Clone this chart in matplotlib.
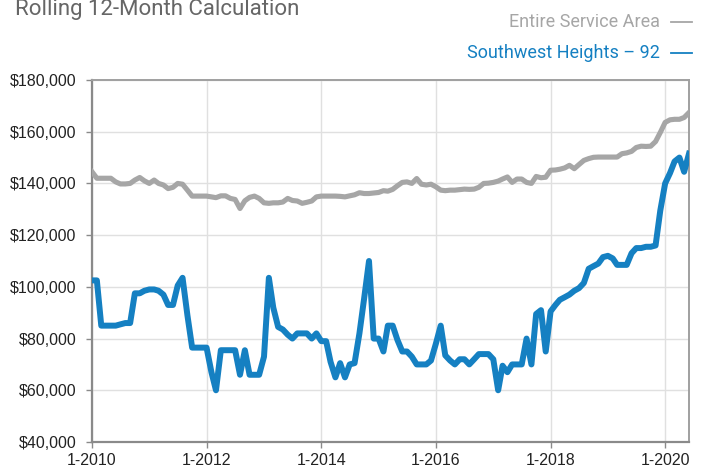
import pandas as pd
import matplotlib.pyplot as plt
from matplotlib.lines import Line2D
from matplotlib.ticker import FuncFormatter

# monthly values, in thousands of dollars (Jan 2010 - Jun 2020)
entire_area = [
    144.5, 142, 142, 142, 142, 140.6, 139.8, 139.8, 140, 141.3, 142.3, 141,
    140, 141.3, 140, 139.4, 138, 138.5, 140, 139.7, 137.4, 135.1, 135.1, 135.1,
    135.1, 134.8, 134.5, 135.2, 135.2, 134.2, 133.8, 130.3, 133.3, 134.6, 135.1, 134.2,
    132.5, 132.3, 132.5, 132.5, 132.8, 134.2, 133.4, 133.2, 132.3, 132.7, 133.2, 134.8,
    135.1, 135.1, 135.1, 135.1, 135, 134.8, 135.2, 135.6, 136.4, 136.1, 136.1, 136.3,
    136.5, 137.2, 137, 137.7, 139.1, 140.4, 140.6, 140, 141.9, 139.7, 139.4, 139.7,
    138.7, 137.4, 137.2, 137.4, 137.4, 137.6, 137.8, 137.7, 137.8, 138.5, 140, 140.1,
    140.4, 140.9, 141.7, 142.5, 140.4, 141.7, 141.7, 140.4, 140, 142.7, 142.2, 142.4,
    145.1, 145.2, 145.5, 146, 147, 145.7, 147.3, 148.9, 149.6, 150.1, 150.2, 150.2,
    150.2, 150.2, 150.2, 151.5, 151.8, 152.4, 153.9, 154.4, 154.3, 154.4, 156.2, 159.7,
    163.6, 164.6, 164.8, 164.8, 165.5, 167.4,
]

southwest_heights = [
    102.5, 102.5, 85, 85, 85, 85, 85.5, 86, 86, 97.5, 97.5, 98.5,
    99, 99, 98.5, 97, 93, 93, 100.5, 103.5, 89, 76.5, 76.5, 76.5,
    76.5, 67, 60, 75.5, 75.5, 75.5, 75.5, 66, 75.5, 66, 66, 66,
    73, 103.5, 92, 84.5, 83.5, 81.5, 80, 82, 82, 82, 80, 82,
    79, 79, 71, 65, 70.5, 65, 70, 70.5, 82, 95.5, 110, 80,
    80, 75, 85, 85, 79.5, 75, 75, 73, 70, 70, 70, 71.5,
    78, 85, 73.5, 71.5, 70, 72, 72, 70, 72, 74, 74, 74,
    72, 60, 69.5, 67, 70, 70, 70, 80, 70, 89.5, 91, 75,
    90.5, 93, 95, 96, 97, 98.5, 99.5, 101.5, 107, 108, 109, 111.5,
    112, 111, 108.5, 108.5, 108.5, 113, 115, 115, 115.5, 115.5, 116, 129.5,
    140, 144, 148.5, 150, 144.5, 151.5,
]

tick_years = [2010, 2012, 2014, 2016, 2018, 2020]
y_ticks = [40000, 60000, 80000, 100000, 120000, 140000, 160000, 180000]

GRAY = '#a6a6a6'
BLUE = '#1580c2'


def main():
    dates = pd.date_range('2010-01-01', periods=len(entire_area), freq='MS')

    fig = plt.figure(figsize=(7.05, 4.68), dpi=100)
    ax = fig.add_axes([92 / 705, 26 / 468, 597 / 705, 362 / 468])

    ax.plot(dates, [v * 1000 for v in entire_area], color=GRAY, lw=3.7,
            solid_joinstyle='round', zorder=3)
    ax.plot(dates, [v * 1000 for v in southwest_heights], color=BLUE, lw=4.3,
            solid_joinstyle='round', zorder=4)

    ax.set_xlim(dates[0], dates[-1])
    ax.set_ylim(40000, 180000)
    ax.set_yticks(y_ticks)
    ax.yaxis.set_major_formatter(FuncFormatter(lambda v, p: f'${v:,.0f}'))
    ax.set_xticks([pd.Timestamp(f'{y}-01-01') for y in tick_years])
    ax.set_xticklabels([f'1-{y}' for y in tick_years])

    ax.grid(True, color='#e0e0e0', lw=1.0, zorder=0)
    for side in ['left', 'bottom']:
        ax.spines[side].set_color('#8a8a8a')
        ax.spines[side].set_linewidth(1.6)
    for side in ['top', 'right']:
        ax.spines[side].set_color('#a0a0a0')
        ax.spines[side].set_linewidth(1.4)
    ax.tick_params(axis='both', colors='#8a8a8a', length=4, width=1,
                   labelcolor='#222222', labelsize=11.5)
    ax.tick_params(axis='x', pad=4)
    ax.tick_params(axis='y', pad=7)
    for lbl in ax.get_xticklabels() + ax.get_yticklabels():
        lbl.set_fontfamily('Liberation Sans')

    fig.text(15 / 705, 1 - 15 / 468, 'Rolling 12-Month Calculation',
             fontsize=16, color='#666666', family='Roboto', va='baseline')

    # legend entries: label text followed by a short swatch line
    legend_rows = [('Entire Service Area', GRAY, 27), ('Southwest Heights \u2013 92', BLUE, 58)]
    for label, color, base in legend_rows:
        fig.text(660 / 705, 1 - base / 468, label, fontsize=13, color=color,
                 family='Roboto', ha='right', va='baseline')
        yy = 1 - (base - 5.5) / 468
        fig.add_artist(Line2D([671 / 705, 692 / 705], [yy, yy], color=color,
                              lw=1.3, transform=fig.transFigure))

    fig.savefig('out.png', dpi=100)


if __name__ == '__main__':
    main()
